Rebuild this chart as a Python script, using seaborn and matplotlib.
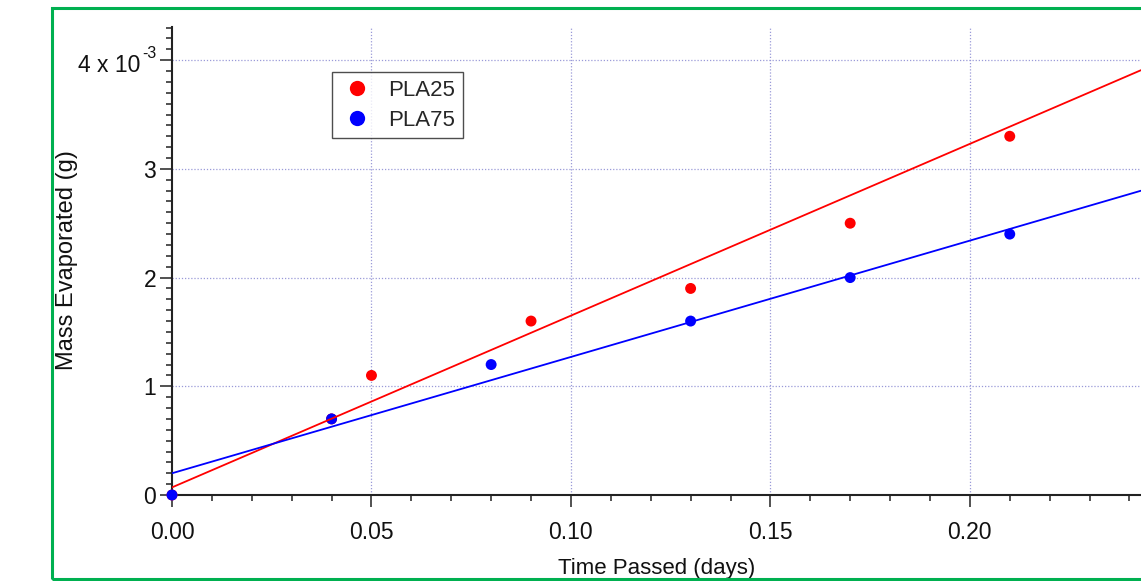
import numpy as np
import pandas as pd
import seaborn as sns
import matplotlib
matplotlib.use("Agg")
import matplotlib.pyplot as plt
from matplotlib.patches import Rectangle
from matplotlib.lines import Line2D
from matplotlib.ticker import MultipleLocator, FixedLocator, FixedFormatter

# ---- data ----
pla25_time = [0.00, 0.04, 0.05, 0.09, 0.13, 0.17, 0.21]
pla25_mass = [0.0e-3, 0.7e-3, 1.1e-3, 1.6e-3, 1.9e-3, 2.5e-3, 3.3e-3]
pla75_time = [0.00, 0.04, 0.08, 0.13, 0.17, 0.21]
pla75_mass = [0.0e-3, 0.7e-3, 1.2e-3, 1.6e-3, 2.0e-3, 2.4e-3]
series_names = ["PLA25", "PLA75"]
# linear fit lines (intercept, slope) as drawn in the chart
fit_intercepts = [0.07e-3, 0.20e-3]
fit_slopes = [15.8e-3, 10.7e-3]
x_ticks = [0.00, 0.05, 0.10, 0.15, 0.20]
x_tick_labels = ["0.00", "0.05", "0.10", "0.15", "0.20"]
y_ticks = [0.0, 1e-3, 2e-3, 3e-3, 4e-3]
y_tick_labels = ["0", "1", "2", "3", ""]
y_top_label = "4 x 10"
y_exponent = "-3"

sns.set_theme(style="white")
plt.rcParams["font.family"] = ["Liberation Sans", "DejaVu Sans"]

fig = plt.figure(figsize=(11.41, 5.81), dpi=100)
ax = fig.add_axes([172 / 1141, 86 / 581, 1 - 172 / 1141, 468 / 581])

colors = {"PLA25": "#ff0000", "PLA75": "#0000ff"}
df = pd.concat([
    pd.DataFrame({"time": pla25_time, "mass": pla25_mass, "series": "PLA25"}),
    pd.DataFrame({"time": pla75_time, "mass": pla75_mass, "series": "PLA75"}),
], ignore_index=True)

xmax = 0.2429
ymax = 4.305e-3
ax.set_xlim(0, xmax)
ax.set_ylim(0, ymax)

# grid
for xv in x_ticks[1:]:
    ax.axvline(xv, color="#9a9ad8", lw=0.9, ls=(0, (1, 1.5)), zorder=0)
for yv in y_ticks[1:]:
    ax.axhline(yv, color="#9a9ad8", lw=0.9, ls=(0, (1, 1.5)), zorder=0)

sns.scatterplot(data=df, x="time", y="mass", hue="series", palette=colors,
                s=62, edgecolor="none", ax=ax, legend=False, zorder=3,
                clip_on=False)

xfit = np.array([0.0, xmax])
for name, b, m in zip(series_names, fit_intercepts, fit_slopes):
    sns.lineplot(x=xfit, y=b + m * xfit, color=colors[name], lw=1.3, ax=ax,
                 zorder=4)

# spines / ticks
for s in ["top", "right"]:
    ax.spines[s].set_visible(False)
for s in ["left", "bottom"]:
    ax.spines[s].set_color("#222222")
    ax.spines[s].set_linewidth(1.5)

ax.xaxis.set_major_locator(FixedLocator(x_ticks))
ax.xaxis.set_major_formatter(FixedFormatter(x_tick_labels))
ax.xaxis.set_minor_locator(MultipleLocator(0.01))
ax.yaxis.set_major_locator(FixedLocator(y_ticks))
ax.yaxis.set_major_formatter(FixedFormatter(y_tick_labels))
ax.yaxis.set_minor_locator(MultipleLocator(0.1e-3))
ax.tick_params(axis="both", which="major", direction="out", length=8.5,
               width=1.1, color="#222222", labelsize=16.5, pad=10,
               bottom=True, left=True, labelcolor="#111111")
ax.tick_params(axis="both", which="minor", direction="out", length=4.5,
               width=1.1, color="#222222", bottom=True, left=True)
ax.tick_params(axis="y", which="major", pad=3)

# top y tick label with exponent
ax.annotate(y_top_label, xy=(0, y_ticks[-1]), xycoords="data",
            xytext=(-23, -4), textcoords="offset points", ha="right",
            va="center", fontsize=16.5, color="#111111", annotation_clip=False)
ax.annotate(y_exponent, xy=(0, y_ticks[-1]), xycoords="data",
            xytext=(-16, 5), textcoords="offset points", ha="center",
            va="center", fontsize=11.5, color="#111111", annotation_clip=False)

ax.set_xlabel("Time Passed (days)", fontsize=16, labelpad=10, color="#111111")
ax.set_ylabel("Mass Evaporated (g)", fontsize=17, color="#111111")
ax.yaxis.set_label_coords(-0.097, 0.502)

# legend
handles = [Line2D([], [], ls="none", marker="o", markersize=11,
                  markerfacecolor=colors[n], markeredgecolor="none")
           for n in series_names]
leg = ax.legend(handles, series_names, loc="upper left",
                bbox_to_anchor=(0.165, 0.904), borderaxespad=0,
                fontsize=16, frameon=True, fancybox=False, handlelength=1.6,
                handletextpad=0.6, labelspacing=0.4, borderpad=0.35)
leg.get_frame().set_edgecolor("#222222")
leg.get_frame().set_linewidth(1.0)

# green outer border
fig.patches.append(Rectangle((52 / 1141, 2 / 581), 1.2, 571 / 581,
                             transform=fig.transFigure, fill=False,
                             edgecolor="#00b050", lw=2.2))

fig.savefig("out.png", dpi=100)
